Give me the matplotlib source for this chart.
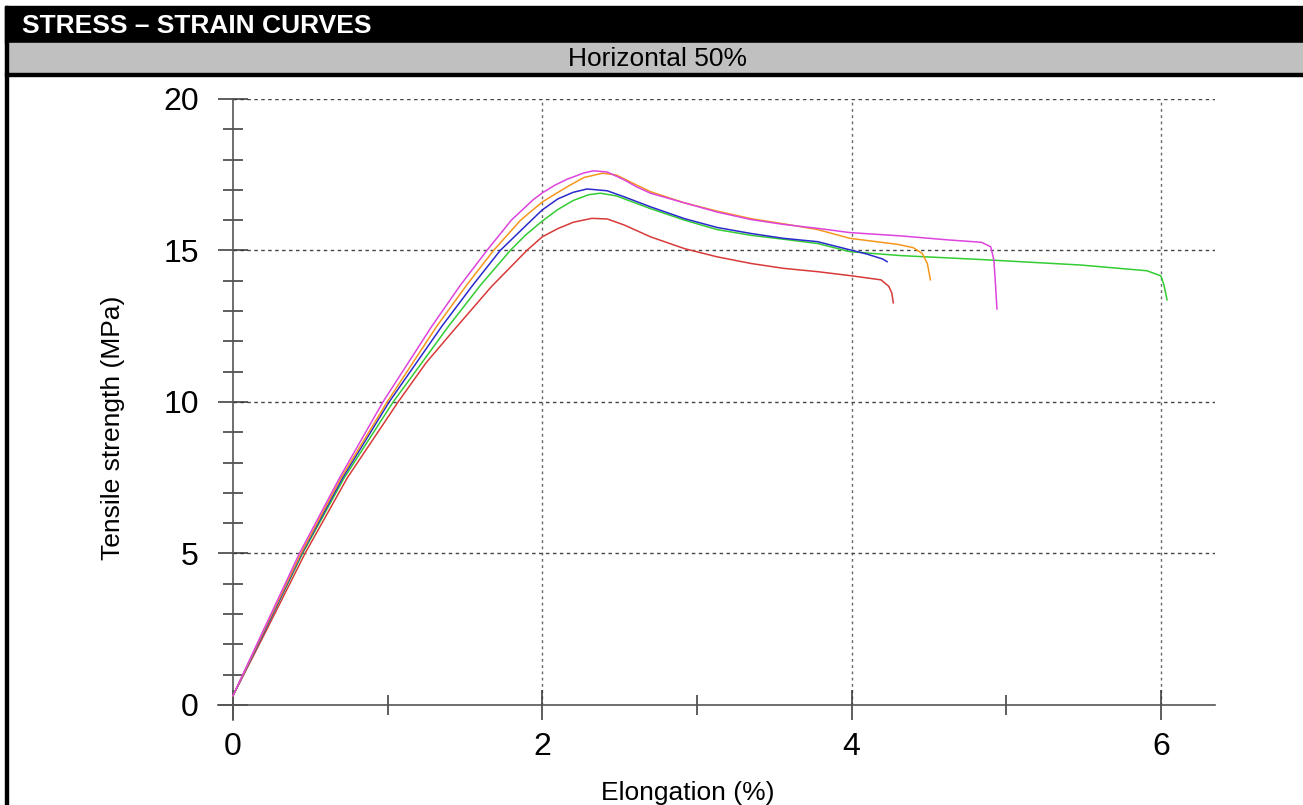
import matplotlib
matplotlib.use("Agg")
import matplotlib.pyplot as plt
from matplotlib.patches import Rectangle

plt.rcParams['font.family'] = ['Liberation Sans', 'DejaVu Sans']

# stress-strain curves (elongation %, MPa)
red_x = [0, 0.22, 0.466, 0.74, 1.068, 1.25, 1.45, 1.67, 1.90, 2.0, 2.1, 2.2, 2.32, 2.42, 2.53, 2.70, 2.92,
         3.13, 3.35, 3.56, 3.78, 3.99, 4.19, 4.24, 4.26, 4.27]
red_y = [0.3, 2.5, 5, 7.5, 10, 11.3, 12.5, 13.8, 15, 15.45, 15.72, 15.93, 16.06, 16.04, 15.84, 15.45, 15.06,
         14.79, 14.57, 14.41, 14.3, 14.17, 14.03, 13.82, 13.6, 13.27]

green_x = [0, 0.21, 0.45, 0.72, 1.036, 1.394, 1.60, 1.793, 1.89, 2.0, 2.1, 2.2, 2.3, 2.375, 2.48, 2.70, 2.92,
           3.13, 3.35, 3.56, 3.78, 3.99, 4.32, 4.84, 5.48, 5.91, 6.00, 6.02, 6.04]
green_y = [0.3, 2.5, 5, 7.5, 10, 12.5, 13.85, 15, 15.5, 15.97, 16.35, 16.65, 16.84, 16.89, 16.8, 16.38, 16.0,
           15.69, 15.5, 15.37, 15.23, 14.96, 14.83, 14.7, 14.52, 14.33, 14.16, 13.86, 13.37]

blue_x = [0, 0.21, 0.445, 0.71, 1.01, 1.351, 1.55, 1.728, 1.89, 2.0, 2.1, 2.2, 2.29, 2.42, 2.53, 2.70, 2.92,
          3.13, 3.35, 3.56, 3.78, 3.99, 4.1, 4.2, 4.23]
blue_y = [0.3, 2.5, 5, 7.5, 10, 12.5, 13.85, 15, 15.8, 16.34, 16.7, 16.92, 17.03, 16.97, 16.77, 16.44, 16.05,
          15.76, 15.56, 15.4, 15.29, 15.02, 14.88, 14.72, 14.63]

orange_x = [0, 0.205, 0.44, 0.70, 0.997, 1.318, 1.51, 1.685, 1.86, 2.0, 2.16, 2.27, 2.39, 2.48, 2.61, 2.70,
            2.92, 3.13, 3.35, 3.56, 3.78, 3.99, 4.30, 4.40, 4.457, 4.49, 4.51]
orange_y = [0.3, 2.5, 5, 7.5, 10, 12.5, 13.85, 15, 16.0, 16.6, 17.1, 17.41, 17.55, 17.49, 17.16, 16.94,
            16.57, 16.30, 16.05, 15.88, 15.69, 15.4, 15.2, 15.09, 14.9, 14.57, 14.03]

magenta_x = [0, 0.2, 0.43, 0.69, 0.97, 1.286, 1.47, 1.642, 1.80, 1.94, 2.0, 2.08, 2.16, 2.27, 2.33, 2.42,
             2.53, 2.61, 2.70, 2.92, 3.13, 3.35, 3.56, 3.78, 3.99, 4.32, 4.62, 4.84, 4.90, 4.92, 4.93, 4.94]
magenta_y = [0.3, 2.5, 5, 7.5, 10, 12.5, 13.85, 15, 16.0, 16.67, 16.9, 17.15, 17.35, 17.56, 17.63, 17.59,
             17.33, 17.1, 16.89, 16.57, 16.27, 16.02, 15.86, 15.73, 15.59, 15.48, 15.35, 15.27, 15.12,
             14.69, 13.93, 13.07]

x_ticks = [0, 2, 4, 6]
y_ticks = [0, 5, 10, 15, 20]

W, H = 1303, 805
fig = plt.figure(figsize=(W / 100, H / 100), dpi=100)

def px_rect(x0, y0, x1, y1, color):
    # rectangle given in pixel coords from top-left
    fig.patches.append(Rectangle((x0 / W, 1 - y1 / H), (x1 - x0) / W, (y1 - y0) / H,
                                 transform=fig.transFigure, color=color, zorder=0))

px_rect(5, 6, W, 43, 'black')
px_rect(5, 43, W, 73, '#c0c0c0')
px_rect(5, 73, W, 76, 'black')
px_rect(5, 6, 8, H, 'black')

fig.text(22 / W, 1 - 26 / H, 'STRESS \u2013 STRAIN CURVES', color='white', fontsize=19,
         fontweight='bold', va='center', ha='left')
fig.text(658 / W, 1 - 59 / H, 'Horizontal 50%', color='black', fontsize=19, va='center', ha='center')

# axes placed so that x=0 -> 233px, x=6 -> 1161px, y=0 -> 705px, y=20 -> 99px
left, right, top, bottom = 217.5, 1215, 99, 720
ax = fig.add_axes([left / W, 1 - bottom / H, (right - left) / W, (bottom - top) / H])
ax.set_xlim(-0.1, 6.35)
ax.set_ylim(-0.5, 20)

for x in x_ticks[1:]:
    ax.vlines(x, 0, 20, colors='#666666', linestyles=(0, (2, 2.5)), linewidth=1, zorder=1)
for y in y_ticks[1:]:
    ax.hlines(y, 0, 6.35, colors='#444444', linestyles=(0, (2.5, 2.5)), linewidth=1, zorder=1)

ax.plot(red_x, red_y, color='#d83a3a', lw=1.1, zorder=3)
ax.plot(green_x, green_y, color='#33cc33', lw=1.1, zorder=3)
ax.plot(blue_x, blue_y, color='#2a2acc', lw=1.1, zorder=3)
ax.plot(orange_x, orange_y, color='#f5971c', lw=1.1, zorder=3)
ax.plot(magenta_x, magenta_y, color='#dd44dd', lw=1.1, zorder=3)

for s in ['top', 'right']:
    ax.spines[s].set_visible(False)
ax.spines['left'].set_position(('data', 0))
ax.spines['bottom'].set_position(('data', 0))
for s in ['left', 'bottom']:
    ax.spines[s].set_color('#555555')
    ax.spines[s].set_linewidth(1.2)

ax.set_xticks(x_ticks)
ax.set_xticks([1, 3, 5], minor=True)
ax.set_yticks(y_ticks)
ax.set_yticks([v for v in range(1, 20) if v % 5 != 0], minor=True)
ax.tick_params(which='major', direction='inout', length=21, width=1.1, color='#333333',
               labelsize=23)
ax.tick_params(which='minor', direction='inout', length=14, width=1.1, color='#333333')
ax.tick_params(axis='x', which='major', pad=9)
ax.tick_params(axis='y', which='major', pad=14)

fig.text(113 / W, 1 - 428 / H, 'Tensile strength (MPa)', rotation=90, fontsize=19,
         va='center', ha='center')
fig.text(688 / W, 1 - 793 / H, 'Elongation (%)', fontsize=19, va='center', ha='center')

fig.savefig('out.png', dpi=100)
